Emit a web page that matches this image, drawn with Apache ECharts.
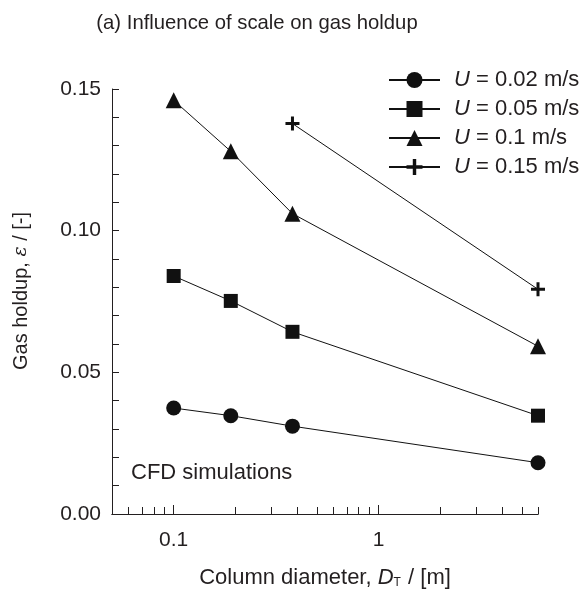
<!DOCTYPE html>
<html>
<head>
<meta charset="utf-8">
<script src="https://cdn.jsdelivr.net/npm/echarts@6/dist/echarts.min.js"></script>
<style>
  html, body { margin: 0; padding: 0; background: #fff; }
  #chart { width: 583px; height: 594px; }
</style>
</head>
<body>
<div id="chart"></div>
<script>
// column diameter D_T [m]
const diam = [0.1, 0.19, 0.38, 6];
const diamU15 = [0.38, 6];

// gas holdup per superficial velocity
const holdupU02 = [0.0374, 0.0347, 0.031, 0.0181];
const holdupU05 = [0.084, 0.0752, 0.0643, 0.0347];
const holdupU10 = [0.146, 0.128, 0.106, 0.0592];
const holdupU15 = [0.1378, 0.0793];

const seriesNames = ['0.02', '0.05', '0.1', '0.15'];

const xMajorTicks = [0.1, 1];
const xMinorTicks = [0.06, 0.07, 0.08, 0.09, 0.2, 0.3, 0.4, 0.5, 0.6, 0.7, 0.8, 0.9, 2, 3, 4, 5, 6];
const yLabels = [0, 0.05, 0.1, 0.15];

const ink = '#231f20';
const font = '"Liberation Sans", Arial, sans-serif';
const plusPath = 'path://M5.5,0h3v5.5h5.5v3h-5.5v5.5h-3v-5.5h-5.5v-3h5.5z';

const pairs = (xs, ys) => xs.map((x, i) => [x, ys[i]]);

const mkSeries = (name, data, symbol, size) => ({
  name,
  type: 'line',
  data,
  symbol,
  symbolSize: size,
  xAxisIndex: 0,
  lineStyle: { color: '#111', width: 1 },
  itemStyle: { color: '#111' },
  animation: false
});

const chart = echarts.init(document.getElementById('chart'));

const baseX = {
  type: 'log',
  logBase: 10,
  min: 0.05,
  max: 6,
  position: 'bottom',
  splitLine: { show: false },
  axisLine: { onZero: false, lineStyle: { color: ink, width: 1 } }
};

chart.setOption({
  backgroundColor: '#fff',
  textStyle: { fontFamily: font, color: ink },
  title: {
    text: '(a) Influence of scale on gas holdup',
    left: 252,
    textAlign: 'center',
    top: 8,
    textStyle: { fontFamily: font, fontSize: 20.3, fontWeight: 'normal', color: ink }
  },
  grid: { left: 112, right: 45, top: 89, bottom: 79 },
  legend: {
    orient: 'vertical',
    left: 383,
    top: 64,
    itemWidth: 51,
    itemHeight: 20,
    itemGap: 7,
    data: seriesNames,
    formatter: (n) => '{u|U} = ' + n + ' m/s',
    textStyle: {
      fontFamily: font,
      fontSize: 22,
      color: ink,
      padding: [0, 0, 0, 9],
      rich: {
        u: { fontFamily: font, fontSize: 22, fontStyle: 'italic', color: ink }
      }
    }
  },
  xAxis: [
    Object.assign({}, baseX, {
      name: '{n|Column diameter, }{i|D}{s|T}{n| / [m]}',
      nameLocation: 'middle',
      nameGap: 53,
      nameTextStyle: {
        rich: {
          n: { fontFamily: font, fontSize: 22, color: ink },
          i: { fontFamily: font, fontSize: 22, fontStyle: 'italic', color: ink },
          s: { fontFamily: font, fontSize: 12, color: ink, padding: [10, 1, 0, 0] }
        }
      },
      axisTick: { inside: true, length: 9, customValues: xMajorTicks, lineStyle: { color: ink } },
      axisLabel: {
        customValues: xMajorTicks,
        margin: 16,
        fontSize: 21,
        color: ink,
        fontFamily: font,
        formatter: (v) => String(v)
      }
    }),
    Object.assign({}, baseX, {
      axisTick: { inside: true, length: 7, customValues: xMinorTicks, lineStyle: { color: ink } },
      axisLabel: { show: false }
    })
  ],
  yAxis: {
    type: 'value',
    min: 0,
    max: 0.15,
    interval: 0.01,
    name: '{n|Gas holdup, }{i|ε}{n| / [-]}',
    nameLocation: 'middle',
    nameGap: 81,
    nameTextStyle: {
      padding: [0, 0, 0, 21],
      rich: {
        n: { fontFamily: font, fontSize: 20, color: ink },
        i: { fontFamily: 'DejaVu Serif, serif', fontSize: 19, fontStyle: 'italic', color: ink }
      }
    },
    splitLine: { show: false },
    axisLine: { show: true, lineStyle: { color: ink, width: 1 } },
    axisTick: { show: true, inside: true, length: 7, lineStyle: { color: ink } },
    axisLabel: {
      customValues: yLabels,
      margin: 11,
      fontSize: 21,
      color: ink,
      fontFamily: font,
      formatter: (v) => v.toFixed(2)
    }
  },
  graphic: [{
    type: 'text',
    left: 131,
    top: 462,
    style: { text: 'CFD simulations', font: '22px ' + font, fill: ink }
  }],
  series: [
    mkSeries('0.02', pairs(diam, holdupU02), 'circle', 15),
    mkSeries('0.05', pairs(diam, holdupU05), 'rect', 14),
    mkSeries('0.1', pairs(diam, holdupU10), 'triangle', 16),
    mkSeries('0.15', pairs(diamU15, holdupU15), plusPath, 14)
  ]
});
</script>
</body>
</html>
